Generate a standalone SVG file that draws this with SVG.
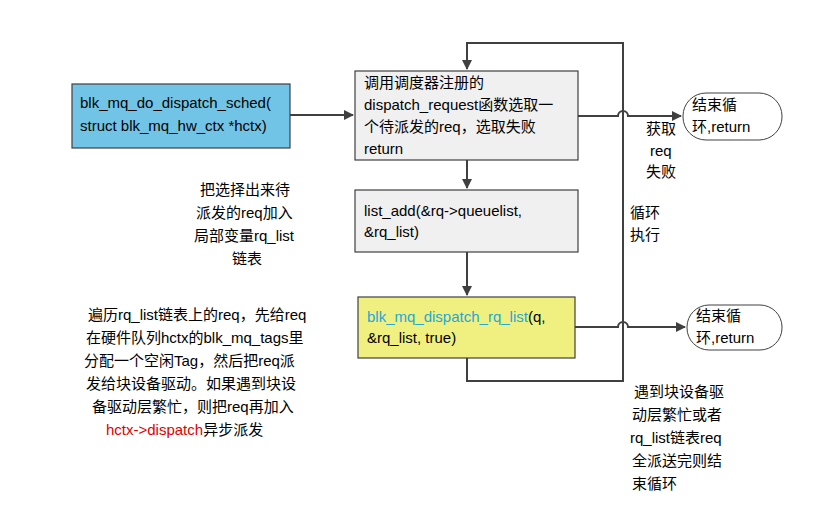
<svg xmlns="http://www.w3.org/2000/svg" width="817" height="522" viewBox="0 0 817 522">
<style>
text{font-family:"Liberation Sans","Noto Sans CJK SC",sans-serif;font-size:15px;fill:#000}
.box{stroke:#404040;stroke-width:1.2}
.ln{fill:none;stroke:#404040;stroke-width:2}
.term{fill:#fff;stroke:#404040;stroke-width:1}
</style>
<defs><marker id="a" viewBox="0 0 10 10" refX="9" refY="5" markerWidth="5" markerHeight="5" orient="auto"><path d="M0,0L10,5L0,10z" fill="#404040"/></marker></defs>
<g id="connectors">
<path class="ln" d="M290,115H353" marker-end="url(#a)"/>
<path class="ln" d="M467,160V188" marker-end="url(#a)"/>
<path class="ln" d="M467,252V295" marker-end="url(#a)"/>
<path class="ln" d="M467,358V381H623V43H467V69" marker-end="url(#a)"/>
<path class="ln" d="M578,116H618a5,5 0 0 1 10,0H681" marker-end="url(#a)"/>
<path class="ln" d="M575,327H618a5,5 0 0 1 10,0H685" marker-end="url(#a)"/>
</g>
<g id="start"><rect class="box" x="72" y="84" width="218" height="64" fill="#72c4e6"/><text x="80" y="108">blk_mq_do_dispatch_sched(</text><text x="80" y="131">struct blk_mq_hw_ctx *hctx)</text></g>
<g id="n1"><rect class="box" x="355" y="71" width="223" height="89" fill="#f0f0f0"/>
<text x="364" y="88">调用调度器注册的</text><text x="364" y="110">dispatch_request函数选取一</text><text x="364" y="132">个待派发的req，选取失败</text><text x="364" y="154">return</text></g>
<g id="n2"><rect class="box" x="355" y="190" width="223" height="62" fill="#f0f0f0"/><text x="364" y="216">list_add(&amp;rq-&gt;queuelist,</text><text x="364" y="237">&amp;rq_list)</text></g>
<g id="n3"><rect class="box" x="358" y="297" width="217" height="61" fill="#f0f080"/><text x="367" y="322"><tspan fill="#1fa8d8">blk_mq_dispatch_rq_list</tspan>(q,</text><text x="367" y="343">&amp;rq_list, true)</text></g>
<g id="t1"><rect class="term" x="683" y="93" width="99" height="47" rx="23"/><text x="692" y="110">结束循</text><text x="692" y="132">环,return</text></g>
<g id="t2"><rect class="term" x="687" y="305" width="95" height="45" rx="22"/><text x="696" y="321">结束循</text><text x="696" y="343">环,return</text></g>
<g id="labels">
<text x="646" y="134">获取</text><text x="650" y="156">req</text><text x="646" y="177">失败</text>
<text x="630" y="218">循环</text><text x="630" y="240">执行</text>
<text x="200" y="195">把选择出来待</text><text x="196" y="218">派发的req加入</text><text x="194" y="241">局部变量rq_list</text><text x="232" y="264">链表</text>
<text x="88" y="320">遍历rq_list链表上的req，先给req</text>
<text x="86" y="343">在硬件队列hctx的blk_mq_tags里</text>
<text x="84" y="366">分配一个空闲Tag，然后把req派</text>
<text x="86" y="389">发给块设备驱动。如果遇到块设</text>
<text x="92" y="412">备驱动层繁忙，则把req再加入</text>
<text x="106" y="435"><tspan fill="#e00000">hctx-&gt;dispatch</tspan>异步派发</text>
<text x="634" y="397">遇到块设备驱</text><text x="632" y="420">动层繁忙或者</text><text x="630" y="443">rq_list链表req</text><text x="632" y="466">全派送完则结</text><text x="632" y="489">束循环</text>
</g>
</svg>
